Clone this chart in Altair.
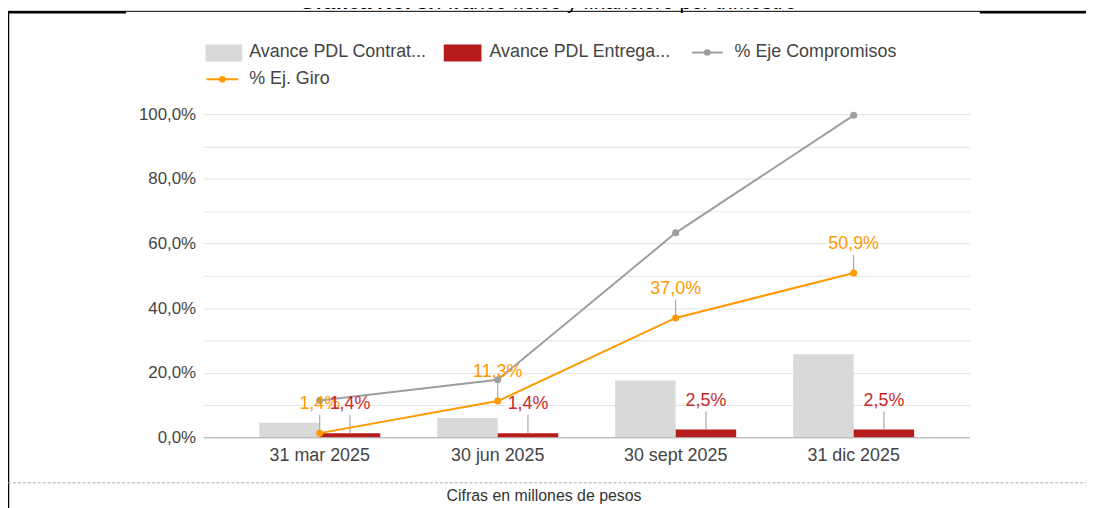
import altair as alt
import pandas as pd

# ---------------- data ----------------
categorias = ["31 mar 2025", "30 jun 2025", "30 sept 2025", "31 dic 2025"]
contratacion = [4.6, 6.1, 17.7, 25.8]
entrega = [1.4, 1.4, 2.5, 2.5]
compromisos = [11.5, 17.9, 63.3, 99.6]
giro = [1.4, 11.3, 37.0, 50.9]
series = ["Avance PDL Contrat...", "Avance PDL Entrega...", "% Eje Compromisos", "% Ej. Giro"]
colores = ["#d9d9d9", "#b71c1c", "#9e9e9e", "#ff9900"]
ticks_y = list(range(0, 101, 10))
titulo_a = "Gráfica No. 3."
titulo_b = "Avance físico y financiero por trimestre"
nota = "Cifras en millones de pesos"

FONT = "Liberation Sans, Arial, sans-serif"
W, H = 772, 326
PAD = {"left": 197, "top": 105, "right": 117, "bottom": 69}

bars_df = pd.DataFrame({
    "cat": categorias * 2,
    "serie": [series[0]] * 4 + [series[1]] * 4,
    "valor": contratacion + entrega,
})
lines_df = pd.DataFrame({
    "cat": categorias * 2,
    "serie": [series[2]] * 4 + [series[3]] * 4,
    "valor": compromisos + giro,
})
entrega_df = pd.DataFrame({"cat": categorias, "valor": entrega})
giro_df = pd.DataFrame({"cat": categorias, "valor": giro})
dummy = pd.DataFrame({"a": [0]})

label_expr = "replace(format(datum.valor, '.1f'), '.', ',') + '%'"

x = alt.X(
    "cat:N", sort=categorias, title=None,
    scale=alt.Scale(paddingInner=0.32, paddingOuter=0.313, round=False),
    axis=alt.Axis(labelAngle=0, labelFontSize=18, labelColor="#444444", labelPadding=9,
                  domain=False, ticks=False, grid=False, labelFont=FONT),
)
y = alt.Y(
    "valor:Q", title=None,
    scale=alt.Scale(domain=[0, 100], nice=False, zero=True),
    axis=alt.Axis(values=ticks_y,
                  labelExpr="datum.value % 20 == 0 ? replace(format(datum.value, '.1f'), '.', ',') + '%' : ''",
                  labelFontSize=17, labelColor="#444444", labelPadding=8, labelFont=FONT,
                  domain=False, ticks=False, gridColor="#e3e3e3", gridWidth=1),
)
color = alt.Color("serie:N", scale=alt.Scale(domain=series, range=colores), legend=None)

bars = alt.Chart(bars_df).mark_bar().encode(
    x=x,
    xOffset=alt.XOffset("serie:N", sort=series[:2], scale=alt.Scale(paddingInner=0.0)),
    y=y,
    color=color,
)

baseline = alt.Chart(dummy).mark_rule(color="#b5b5b5", strokeWidth=1).encode(
    x=alt.value(0), x2=alt.value(W), y=alt.value(H)
)

stem_giro = alt.Chart(giro_df).transform_calculate(top="datum.valor + 5.6").mark_rule(
    color="#999999", strokeWidth=1
).encode(x=x, y=y, y2=alt.Y2("top:Q"))

stem_entrega = alt.Chart(entrega_df).transform_calculate(top="datum.valor + 5.6").mark_rule(
    color="#999999", strokeWidth=1, xOffset=30.5
).encode(x=x, y=y, y2=alt.Y2("top:Q"))

lines = alt.Chart(lines_df).mark_line(strokeWidth=2).encode(
    x=x, y=y, color=color, detail="serie:N"
)
points = alt.Chart(lines_df).mark_circle(size=50, opacity=1).encode(
    x=x, y=y, color=color
)

txt_giro = alt.Chart(giro_df).transform_calculate(lbl=label_expr).mark_text(
    dy=-29, fontSize=18, font=FONT, color="#ff9900", baseline="middle"
).encode(x=x, y=y, text="lbl:N")

txt_entrega = alt.Chart(entrega_df).transform_calculate(lbl=label_expr).mark_text(
    dy=-29, dx=30.5, fontSize=18, font=FONT, color="#c62828", baseline="middle"
).encode(x=x, y=y, text="lbl:N")

# ---------------- decorations (pixel positions relative to plot area) ----------------
def hrule(x1, x2, yy, w=1, col="#000000", dash=None):
    kw = dict(color=col, strokeWidth=w)
    if dash:
        kw["strokeDash"] = dash
    return alt.Chart(dummy).mark_rule(**kw).encode(
        x=alt.value(x1), x2=alt.value(x2), y=alt.value(yy)
    )

frame = [
    hrule(-197, 889, -103.5, 1),
    hrule(-198, -78, -102.5, 2.5),
    hrule(782, 889, -102.5, 2.5),
    alt.Chart(dummy).mark_rule(color="#000000", strokeWidth=2.5).encode(
        x=alt.value(-197), y=alt.value(-103.5), y2=alt.value(400)
    ),
    hrule(-197, 889, 371.5, 1, "#aaaaaa", [3, 2]),
]

def txt(xx, yy, s, size=16, col="#333333", align="left", weight="normal", baseline="middle"):
    return alt.Chart(dummy).mark_text(
        align=align, baseline=baseline, fontSize=size, font=FONT, color=col, fontWeight=weight
    ).encode(x=alt.value(xx), y=alt.value(yy), text=alt.value(s))

texts = [
    txt(232, -105.5, titulo_a, 21, "#000000", "right", "bold", "alphabetic"),
    txt(236, -105.5, titulo_b, 21, "#000000", "left", "normal", "alphabetic"),
    txt(343, 385, nota, 16, "#333333", "center"),
]

def swatch(x1, x2, col):
    return alt.Chart(dummy).mark_rect(color=col).encode(
        x=alt.value(x1), x2=alt.value(x2), y=alt.value(-70), y2=alt.value(-53)
    )

def line_sym(x1, x2, yy, col):
    return [
        hrule(x1, x2, yy, 2, col),
        alt.Chart(dummy).mark_circle(size=45, opacity=1, color=col).encode(
            x=alt.value((x1 + x2) / 2), y=alt.value(yy)
        ),
    ]

legend = [
    swatch(2, 39, colores[0]),
    txt(46, -62, series[0], 18, "#444444"),
    swatch(242, 280, colores[1]),
    txt(288, -62, series[1], 18, "#444444"),
    *line_sym(492, 523, -62, colores[2]),
    txt(535, -62, series[2], 18, "#444444"),
    *line_sym(3, 35, -35, colores[3]),
    txt(46, -35, series[3], 18, "#444444"),
]

chart = alt.layer(
    bars, baseline, stem_giro, stem_entrega, lines, points, txt_giro, txt_entrega,
    *frame, *texts, *legend
).properties(
    width=W, height=H,
    autosize=alt.AutoSizeParams(type="none"),
    padding=PAD,
    background="white",
).configure_view(stroke=None)

chart.save("out.html", embed_options={"renderer": "svg", "actions": False})
